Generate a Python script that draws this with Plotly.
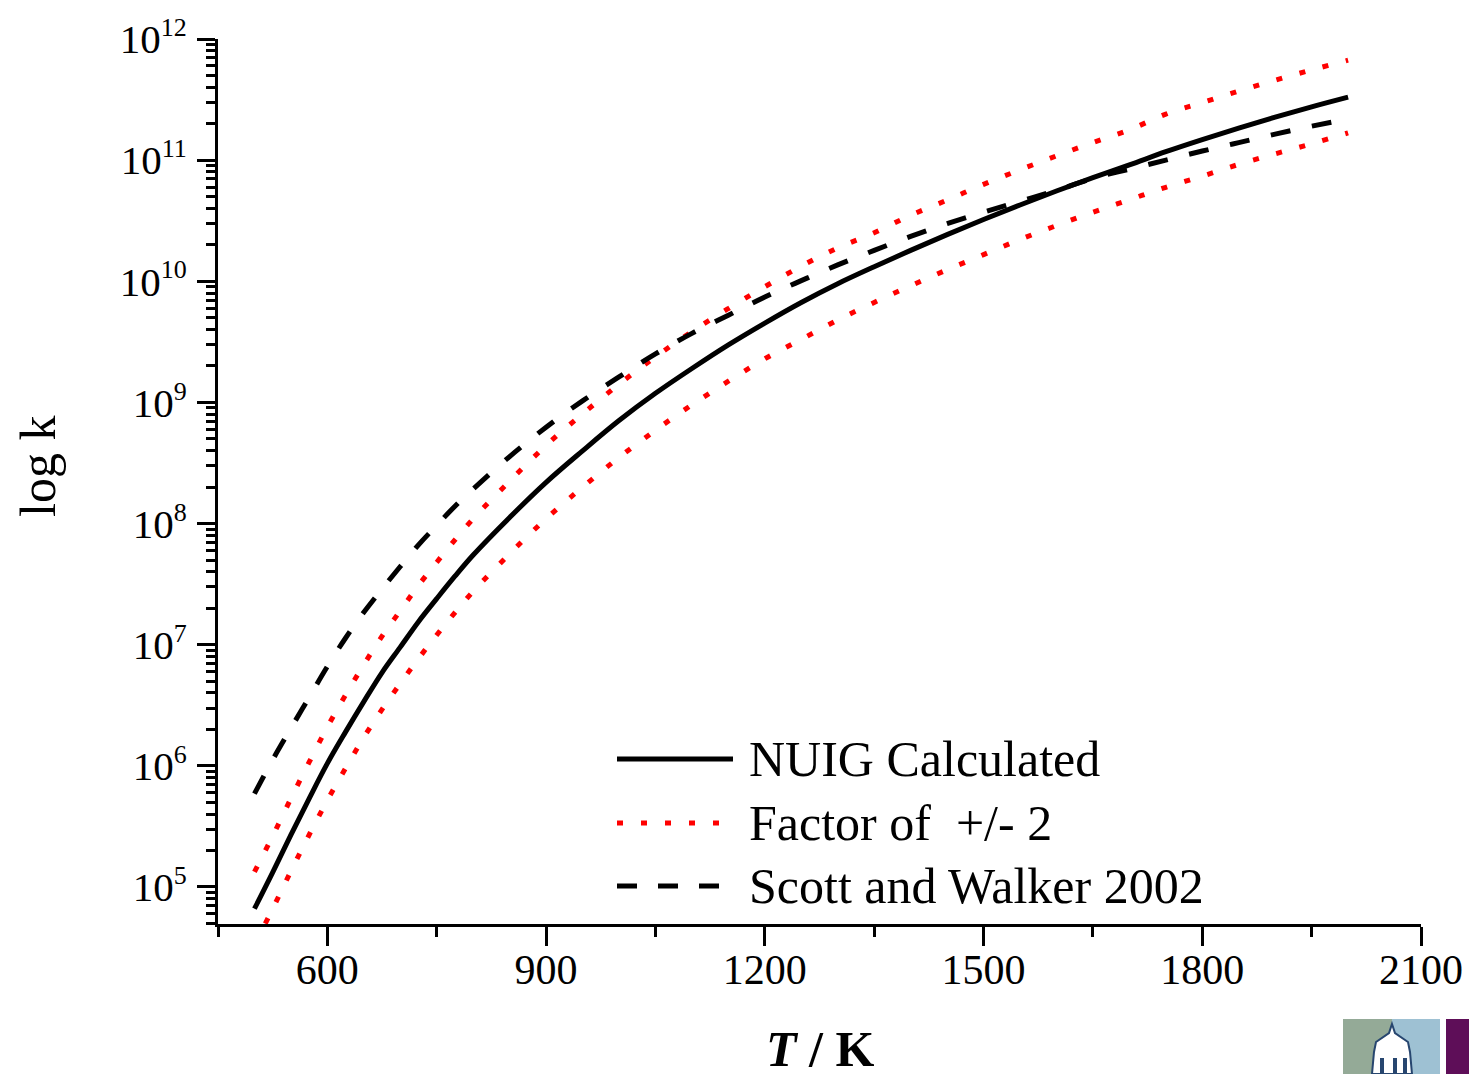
import plotly.graph_objects as go

# ---------------- data ----------------
T_K = [500, 525, 550, 575, 600, 625, 650, 675, 700, 725, 750, 775, 800, 850, 900,
       950, 1000, 1050, 1100, 1150, 1200, 1250, 1300, 1350, 1400, 1450, 1500, 1550,
       1600, 1650, 1700, 1750, 1800, 1850, 1900, 1950, 2000]

# log10(k) values
log_k_nuig = [4.82, 5.12, 5.43, 5.73, 6.02, 6.28, 6.53, 6.77, 6.98, 7.19, 7.38, 7.565,
              7.74, 8.05, 8.34, 8.60, 8.85, 9.075, 9.28, 9.475, 9.655, 9.825, 9.98,
              10.12, 10.255, 10.385, 10.51, 10.63, 10.745, 10.855, 10.96, 11.07, 11.17,
              11.265, 11.355, 11.44, 11.52]

log_k_upper = [5.125, 5.42, 5.73, 6.03, 6.32, 6.585, 6.835, 7.07, 7.28, 7.49, 7.68,
               7.865, 8.04, 8.35, 8.645, 8.905, 9.15, 9.375, 9.585, 9.775, 9.955,
               10.125, 10.275, 10.40, 10.545, 10.67, 10.80, 10.92, 11.035, 11.145,
               11.25, 11.38, 11.475, 11.57, 11.66, 11.745, 11.825]

log_k_lower = [4.52, 4.82, 5.13, 5.43, 5.715, 5.98, 6.235, 6.465, 6.68, 6.885, 7.08,
               7.265, 7.44, 7.75, 8.04, 8.30, 8.545, 8.77, 8.98, 9.175, 9.36, 9.52,
               9.68, 9.825, 9.963, 10.095, 10.22, 10.345, 10.46, 10.57, 10.673, 10.776,
               10.868, 10.965, 11.052, 11.135, 11.225]

log_k_scott = [5.77, 6.05, 6.31, 6.565, 6.82, 7.055, 7.267, 7.46, 7.645, 7.824, 7.985,
               8.143, 8.285, 8.553, 8.795, 9.013, 9.21, 9.40, 9.57, 9.72, 9.87, 10.005,
               10.135, 10.255, 10.37, 10.475, 10.57, 10.66, 10.75, 10.85, 10.925, 11.0,
               11.075, 11.145, 11.215, 11.28, 11.34]

series_names = ["NUIG Calculated", "Factor of  +/- 2", "Scott and Walker 2002"]
x_tick_vals = [600, 900, 1200, 1500, 1800, 2100]
y_tick_exponents = [5, 6, 7, 8, 9, 10, 11, 12]

FONT = "Liberation Serif"
W, H = 1469, 1074
L, R, TOP, B = 218, 48, 39, 150
PW, PH = W - L - R, H - TOP - B


def px(x):
    return (x - L) / PW


def py(y):
    return (H - B - y) / PH


def tok(vals):
    return [10 ** v for v in vals]


fig = go.Figure()
fig.add_trace(go.Scatter(x=T_K, y=tok(log_k_upper), mode="lines", name=series_names[1],
                         line=dict(color="#ff0000", width=5, dash="6px,18px", shape="spline")))
fig.add_trace(go.Scatter(x=T_K, y=tok(log_k_lower), mode="lines", name=series_names[1],
                         showlegend=False,
                         line=dict(color="#ff0000", width=5, dash="6px,18px", shape="spline")))
fig.add_trace(go.Scatter(x=T_K, y=tok(log_k_scott), mode="lines", name=series_names[2],
                         line=dict(color="black", width=5, dash="20px,22px", shape="spline")))
fig.add_trace(go.Scatter(x=T_K, y=tok(log_k_nuig), mode="lines", name=series_names[0],
                         line=dict(color="black", width=5, shape="spline")))

fig.update_layout(
    width=W, height=H,
    margin=dict(l=L, r=R, t=TOP, b=B, autoexpand=False),
    paper_bgcolor="white", plot_bgcolor="white",
    showlegend=False,
    font=dict(family=FONT, color="black", size=41),
)

fig.update_xaxes(
    range=[450, 2100], tickmode="array", tickvals=x_tick_vals,
    automargin=False,
    showline=True, linewidth=3, linecolor="black",
    ticks="outside", ticklen=19, tickwidth=3, tickcolor="black",
    minor=dict(ticks="outside", ticklen=10, tickwidth=3, tickcolor="black",
               tickmode="linear", tick0=450, dtick=150, showgrid=False),
    showgrid=False, zeroline=False,
    tickfont=dict(family=FONT, size=42, color="black"),
    ticklabelstandoff=-12,
)

fig.update_yaxes(
    type="log", range=[4.694, 12.0], tickmode="array",
    tickvals=[10 ** n for n in y_tick_exponents],
    ticktext=[f"10<sup><span style='font-size:26px'>{n}</span></sup>" for n in y_tick_exponents],
    automargin=False,
    showline=True, linewidth=3, linecolor="black",
    ticks="outside", ticklen=18, tickwidth=3, tickcolor="black",
    minor=dict(ticks="outside", ticklen=9, tickwidth=3, tickcolor="black",
               tickmode="linear", dtick="D1", showgrid=False),
    showgrid=False, zeroline=False,
    tickfont=dict(family=FONT, size=41, color="black"),
    ticklabelstandoff=2,
)

annotations = []
# axis titles
annotations.append(dict(text="<b><i>T</i> / K</b>", x=0.5, y=py(1049), xref="paper", yref="paper",
                        xanchor="center", yanchor="middle", showarrow=False,
                        font=dict(family=FONT, size=50, color="black")))
annotations.append(dict(text="log k", x=px(38), y=py(467), xref="paper", yref="paper",
                        xanchor="center", yanchor="middle", textangle=-90, showarrow=False,
                        font=dict(family=FONT, size=50, color="black")))

# legend (drawn manually to match long samples)
rows = [759, 823, 886]
styles = [dict(color="black", width=5, dash="solid"),
          dict(color="#ff0000", width=5, dash="6px,18px"),
          dict(color="black", width=5, dash="20px,21px")]
ends = [733, 720, 720]
shapes = []
for name, yrow, st, xe in zip(series_names, rows, styles, ends):
    shapes.append(dict(type="line", xref="paper", yref="paper", x0=px(617), x1=px(xe),
                       y0=py(yrow), y1=py(yrow), line=st))
    annotations.append(dict(text=name, x=px(747), y=py(yrow), xref="paper", yref="paper",
                            xanchor="left", yanchor="middle", showarrow=False,
                            font=dict(family=FONT, size=50, color="black")))

# small logo in the bottom-right corner
shapes.append(dict(type="rect", xref="paper", yref="paper", x0=px(1343), x1=px(1392),
                   y0=py(1074), y1=py(1019), fillcolor="#94aa97", line=dict(width=0)))
shapes.append(dict(type="rect", xref="paper", yref="paper", x0=px(1392), x1=px(1440),
                   y0=py(1074), y1=py(1019), fillcolor="#9ec1d3", line=dict(width=0)))
shapes.append(dict(type="rect", xref="paper", yref="paper", x0=px(1446), x1=px(1469),
                   y0=py(1074), y1=py(1019), fillcolor="#5e0e58", line=dict(width=0)))
pts = [(1392, 1024), (1395, 1033), (1408, 1042), (1410, 1052), (1412, 1074),
       (1372, 1074), (1374, 1052), (1376, 1042), (1389, 1033)]
path = "M " + " L ".join(f"{px(a):.5f},{py(b):.5f}" for a, b in pts) + " Z"
shapes.append(dict(type="path", xref="paper", yref="paper", path=path,
                   fillcolor="white", line=dict(color="#27466f", width=2)))
for a in (1380, 1393, 1403):
    shapes.append(dict(type="rect", xref="paper", yref="paper", x0=px(a), x1=px(a + 4),
                       y0=py(1074), y1=py(1058), fillcolor="#27466f", line=dict(width=0)))

fig.update_layout(annotations=annotations, shapes=shapes)
fig.write_html("out.html")
